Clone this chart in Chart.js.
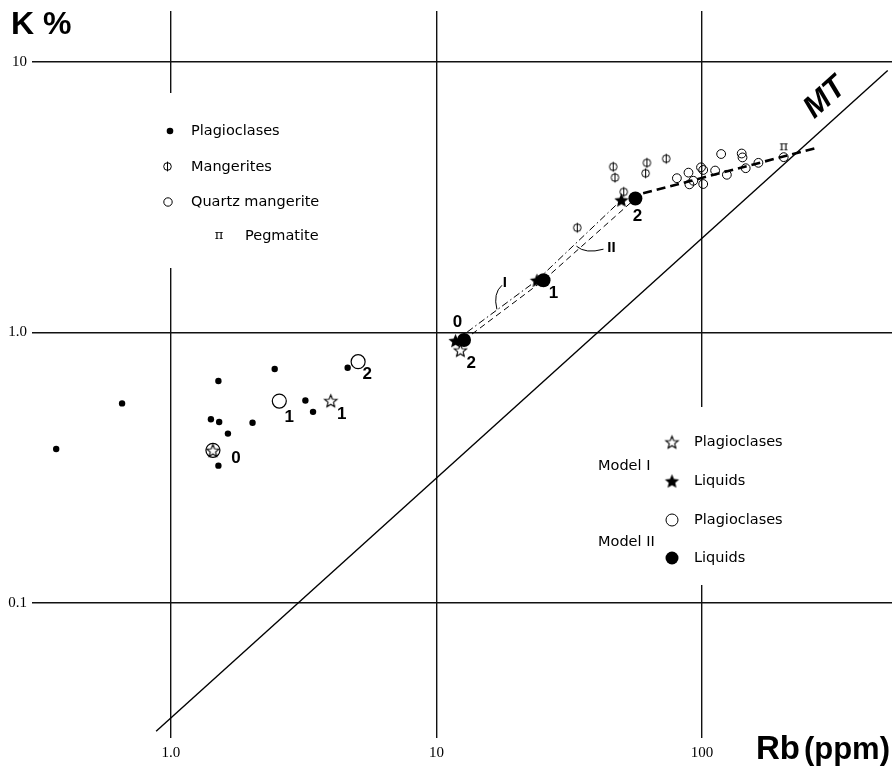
<!DOCTYPE html>
<html lang="en">
<head>
<meta charset="UTF-8">
<title>K % vs Rb (ppm)</title>
<script src="https://cdn.jsdelivr.net/npm/chart.js"></script>
<style>
  html, body { margin: 0; padding: 0; background: #fff; }
</style>
</head>
<body>
<canvas id="myChart" width="892" height="768"></canvas>
<script>
// axes (both logarithmic)
const xTicks = [1, 10, 100];
const xTickLabels = ['1.0', '10', '100'];
const yTicks = [0.1, 1, 10];
const yTickLabels = ['0.1', '1.0', '10'];

// samples
const plagRb = [0.37, 0.655, 1.51, 1.415, 1.52, 1.64, 2.03, 2.46, 3.21, 3.43, 4.63, 1.51];
const plagK  = [0.371, 0.547, 0.662, 0.478, 0.467, 0.423, 0.464, 0.733, 0.561, 0.509, 0.741, 0.322];

const mangRb = [33.9, 46.3, 47.0, 50.7, 62.0, 61.3, 73.3];
const mangK  = [2.44, 4.10, 3.74, 3.31, 4.24, 3.88, 4.39];

const qmRb = [80.4, 88.9, 89.6, 92.7, 99.1, 101, 101, 112, 118, 124, 141, 142, 146, 163, 203];
const qmK  = [3.72, 3.90, 3.53, 3.64, 4.08, 3.99, 3.54, 3.97, 4.57, 3.83, 4.59, 4.44, 4.05, 4.24, 4.45];

const pegRb = [203];
const pegK  = [4.84];

// models, steps 0 1 2
const steps = ['0', '1', '2'];
const m1PlagRb = [1.44, 4.0, 12.3];
const m1PlagK  = [0.367, 0.56, 0.861];
const m1LiqRb  = [11.8, 23.9, 49.7];
const m1LiqK   = [0.933, 1.56, 3.09];
const m2PlagRb = [1.44, 2.56, 5.07];
const m2PlagK  = [0.367, 0.558, 0.78];
const m2LiqRb  = [12.7, 25.3, 56.1];
const m2LiqK   = [0.938, 1.56, 3.13];

// lines
const trendRb = [60, 275];
const trendK  = [3.27, 4.84];
const mtRb = [0.88, 500];
const mtK  = [0.0336, 9.3];

const pts = (xs, ys) => xs.map((x, i) => ({ x: x, y: ys[i] }));

// marker images
function makeCanvas(w, h) {
    const c = document.createElement('canvas');
    c.width = w; c.height = h;
    return c;
}
function starPath(ctx, cx, cy, R, r) {
    ctx.beginPath();
    for (let i = 0; i < 10; i++) {
        const a = -Math.PI / 2 + i * Math.PI / 5;
        const rad = i % 2 ? r : R;
        const px = cx + rad * Math.cos(a), py = cy + rad * Math.sin(a);
        if (i === 0) ctx.moveTo(px, py); else ctx.lineTo(px, py);
    }
    ctx.closePath();
}
function starImg(R, filled) {
    const s = Math.ceil(2 * R + 4);
    const c = makeCanvas(s, s);
    const ctx = c.getContext('2d');
    starPath(ctx, s / 2, s / 2 + 0.8, R, R * (filled ? 0.46 : 0.44));
    if (filled) { ctx.fillStyle = '#000'; ctx.fill(); }
    else { ctx.strokeStyle = '#000'; ctx.lineWidth = 1.1; ctx.stroke(); }
    return c;
}
function mangImg() {
    const c = makeCanvas(11, 13);
    const ctx = c.getContext('2d');
    ctx.strokeStyle = '#000'; ctx.lineWidth = 1;
    ctx.beginPath(); ctx.arc(5.5, 6.5, 3.8, 0, Math.PI * 2); ctx.stroke();
    ctx.beginPath(); ctx.moveTo(5.5, 1.6); ctx.lineTo(5.5, 11.4); ctx.stroke();
    return c;
}
function piImg() {
    const c = makeCanvas(14, 14);
    const ctx = c.getContext('2d');
    ctx.fillStyle = '#000';
    ctx.font = '13px "DejaVu Serif"';
    ctx.textAlign = 'center'; ctx.textBaseline = 'middle';
    ctx.fillText('π', 7, 7);
    return c;
}
const openStar = starImg(6.5, false);
const fullStar = starImg(7.5, true);
const mangSym = mangImg();
const piSym = piImg();

const legendFont = '14.5px "DejaVu Sans"';

const decor = {
    id: 'decor',
    afterDraw(chart) {
        const ctx = chart.ctx;
        const xs = chart.scales.x, ys = chart.scales.y;
        const area = chart.chartArea;
        ctx.save();

        // tick labels
        ctx.fillStyle = '#000';
        ctx.font = '15px "Liberation Sans Narrow"';
        ctx.textAlign = 'right'; ctx.textBaseline = 'middle';
        yTicks.forEach((v, i) => ctx.fillText(yTickLabels[i], area.left - 5, ys.getPixelForValue(v)));
        ctx.textAlign = 'center';
        xTicks.forEach((v, i) => ctx.fillText(xTickLabels[i], xs.getPixelForValue(v), area.bottom + 15));

        // axis titles
        ctx.font = 'bold 32px "Liberation Sans"';
        ctx.textAlign = 'left'; ctx.textBaseline = 'alphabetic';
        ctx.fillText('K %', 11, 34);
        ctx.font = 'bold 31px "Liberation Sans"';
        ctx.textAlign = 'right';
        ctx.fillText('(ppm)', 890, 759);
        const pw = ctx.measureText('(ppm)').width;
        ctx.font = 'bold 33px "Liberation Sans"';
        ctx.fillText('Rb', 890 - pw - 4, 759);

        // legend: samples
        ctx.fillStyle = '#fff';
        ctx.fillRect(150, 93, 190, 175);
        ctx.fillStyle = '#000';
        ctx.font = legendFont;
        ctx.textAlign = 'left'; ctx.textBaseline = 'middle';
        ctx.beginPath(); ctx.arc(170, 131, 3.3, 0, Math.PI * 2); ctx.fill();
        ctx.fillText('Plagioclases', 191, 131);
        ctx.drawImage(mangSym, 162, 160);
        ctx.fillText('Mangerites', 191, 167);
        ctx.lineWidth = 1; ctx.strokeStyle = '#000';
        ctx.beginPath(); ctx.arc(168, 202, 4.2, 0, Math.PI * 2); ctx.stroke();
        ctx.fillText('Quartz mangerite', 191, 202);
        ctx.drawImage(piSym, 212, 229);
        ctx.fillText('Pegmatite', 245, 236);

        // legend: models
        ctx.fillStyle = '#fff';
        ctx.fillRect(592, 407, 210, 178);
        ctx.fillStyle = '#000';
        ctx.drawImage(openStar, 672 - openStar.width / 2, 442 - openStar.height / 2);
        ctx.fillText('Plagioclases', 694, 442);
        ctx.fillText('Model I', 598, 466);
        ctx.drawImage(fullStar, 672 - fullStar.width / 2, 481 - fullStar.height / 2);
        ctx.fillText('Liquids', 694, 481);
        ctx.beginPath(); ctx.arc(672, 520, 6, 0, Math.PI * 2); ctx.stroke();
        ctx.fillText('Plagioclases', 694, 520);
        ctx.fillText('Model II', 598, 542);
        ctx.beginPath(); ctx.arc(672, 558, 6.5, 0, Math.PI * 2); ctx.fill();
        ctx.fillText('Liquids', 694, 558);

        // step numbers
        ctx.font = 'bold 17px "Liberation Sans"';
        ctx.textAlign = 'center'; ctx.textBaseline = 'middle';
        const lab = (t, x, y, dx, dy) => ctx.fillText(t, xs.getPixelForValue(x) + dx, ys.getPixelForValue(y) + dy);
        lab(steps[0], m2PlagRb[0], m2PlagK[0], 23, 8);
        lab(steps[1], m2PlagRb[1], m2PlagK[1], 10, 16);
        lab(steps[2], m2PlagRb[2], m2PlagK[2], 9, 13);
        lab(steps[1], m1PlagRb[1], m1PlagK[1], 11, 14);
        lab(steps[2], m1PlagRb[2], m1PlagK[2], 11, 13);
        lab(steps[0], m1LiqRb[0], m1LiqK[0], 2, -18);
        lab(steps[1], m2LiqRb[1], m2LiqK[1], 10, 13);
        lab(steps[2], m2LiqRb[2], m2LiqK[2], 2, 18);

        // model line labels with leaders
        ctx.font = 'bold 15px "Liberation Sans"';
        const ix = xs.getPixelForValue(18.1), iy = ys.getPixelForValue(1.52);
        ctx.fillText('I', ix, iy);
        ctx.lineWidth = 1;
        ctx.beginPath();
        ctx.moveTo(ix - 3, iy + 2);
        ctx.quadraticCurveTo(ix - 12, iy + 10, ix - 8, iy + 26);
        ctx.stroke();
        const jx = xs.getPixelForValue(45.6), jy = ys.getPixelForValue(2.05);
        ctx.fillText('II', jx, jy);
        ctx.beginPath();
        ctx.moveTo(jx - 8, jy + 1);
        ctx.quadraticCurveTo(jx - 26, jy + 6, jx - 35, jy - 2);
        ctx.stroke();

        // MT label
        ctx.save();
        ctx.translate(xs.getPixelForValue(291), ys.getPixelForValue(7.36));
        ctx.rotate(-42 * Math.PI / 180);
        ctx.font = 'italic bold 31px "Liberation Sans"';
        ctx.fillText('MT', 0, 0);
        ctx.restore();

        ctx.restore();
    }
};

const lineDs = (xs, ys, width, dash) => ({
    type: 'line', data: pts(xs, ys), showLine: true, fill: false,
    borderColor: '#000', borderWidth: width, borderDash: dash,
    pointRadius: 0, order: 10
});

const ctx = document.getElementById('myChart').getContext('2d');
new Chart(ctx, {
    type: 'scatter',
    data: {
        datasets: [
            lineDs(mtRb, mtK, 1.4, []),
            lineDs(trendRb, trendK, 2.6, [9, 5]),
            lineDs(m1LiqRb, m1LiqK, 1, [7, 3, 1.5, 3]),
            lineDs(m2LiqRb, m2LiqK, 1, [6, 4]),
            { label: 'Plagioclases', data: pts(plagRb, plagK), pointStyle: 'circle', pointRadius: 3.2,
              backgroundColor: '#000', borderColor: '#000', borderWidth: 0, order: 5 },
            { label: 'Mangerites', data: pts(mangRb, mangK), pointStyle: mangSym, order: 5 },
            { label: 'Quartz mangerite', data: pts(qmRb, qmK), pointStyle: 'circle', pointRadius: 4.4,
              backgroundColor: 'rgba(0,0,0,0)', borderColor: '#000', borderWidth: 1, order: 5 },
            { label: 'Pegmatite', data: pts(pegRb, pegK), pointStyle: piSym, order: 5 },
            { label: 'Model II Plagioclases', data: pts(m2PlagRb, m2PlagK), pointStyle: 'circle', pointRadius: 7,
              backgroundColor: 'rgba(255,255,255,0)', borderColor: '#000', borderWidth: 1.2, order: 4 },
            { label: 'Model I Plagioclases', data: pts(m1PlagRb, m1PlagK), pointStyle: openStar, order: 3 },
            { label: 'Model II Liquids', data: pts(m2LiqRb, m2LiqK), pointStyle: 'circle', pointRadius: 7,
              backgroundColor: '#000', borderColor: '#000', borderWidth: 0, order: 2 },
            { label: 'Model I Liquids', data: pts(m1LiqRb, m1LiqK), pointStyle: fullStar, order: 1 }
        ]
    },
    options: {
        responsive: false,
        devicePixelRatio: 1,
        animation: false,
        events: [],
        layout: { autoPadding: false, padding: { left: 32, right: 0, top: 11, bottom: 30 } },
        plugins: { legend: { display: false }, tooltip: { enabled: false } },
        scales: {
            x: {
                type: 'logarithmic', min: 0.312, max: 519,
                afterBuildTicks: (scale) => { scale.ticks = xTicks.map(v => ({ value: v })); },
                ticks: { display: false },
                grid: { color: '#111', lineWidth: 1.4, drawTicks: false },
                border: { display: false }
            },
            y: {
                type: 'logarithmic', min: 0.0317, max: 15.44,
                afterBuildTicks: (scale) => { scale.ticks = yTicks.map(v => ({ value: v })); },
                ticks: { display: false },
                grid: { color: '#111', lineWidth: 1.4, drawTicks: false },
                border: { display: false }
            }
        }
    },
    plugins: [decor]
});
</script>
</body>
</html>
